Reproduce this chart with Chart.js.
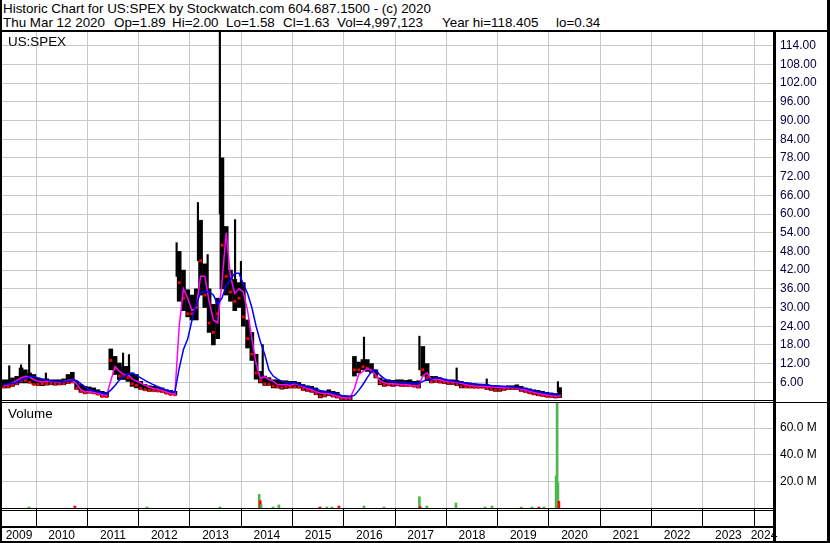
<!DOCTYPE html>
<html>
<head>
<meta charset="utf-8">
<script src="https://cdn.jsdelivr.net/npm/chart.js@4.4.1/dist/chart.umd.min.js"></script>
<style>
  body { margin: 0; background: #fff; }
  #wrap { position: relative; width: 830px; height: 543px; overflow: hidden; background: #fff;
          font-family: "Liberation Sans", Arial, sans-serif; color: #000; }
  .t { position: absolute; font-size: 13.4px; line-height: 15px; white-space: pre; }
  .ln { position: absolute; background: #000; }
  canvas { position: absolute; }
</style>
</head>
<body>
<div id="wrap">
  <canvas id="price" width="828" height="369" style="left:2px;top:32px"></canvas>
  <canvas id="vol" width="828" height="139" style="left:2px;top:403px"></canvas>

  <div class="t" style="left:3px;top:1px">Historic Chart for US:SPEX by Stockwatch.com 604.687.1500 - (c) 2020</div>
  <div class="t" style="left:3px;top:15px">Thu Mar 12 2020</div>
  <div class="t" style="left:114px;top:15px">Op=1.89</div>
  <div class="t" style="left:172px;top:15px">Hi=2.00</div>
  <div class="t" style="left:226px;top:15px">Lo=1.58</div>
  <div class="t" style="left:283px;top:15px">Cl=1.63</div>
  <div class="t" style="left:337px;top:15px">Vol=4,997,123</div>
  <div class="t" style="left:442px;top:15px">Year hi=118.405</div>
  <div class="t" style="left:556px;top:15px">lo=0.34</div>
  <div class="t" style="left:8px;top:34px">US:SPEX</div>
  <div class="t" style="left:8px;top:406px">Volume</div>

  <!-- frame -->
  <div class="ln" style="left:0;top:0;width:2px;height:543px"></div>
  <div class="ln" style="left:827px;top:0;width:3px;height:543px"></div>
  <div class="ln" style="left:0;top:30px;width:830px;height:2px"></div>
  <div class="ln" style="left:0;top:400px;width:775px;height:1px"></div>
  <div class="ln" style="left:0;top:402px;width:830px;height:1px"></div>
  <div class="ln" style="left:0;top:508px;width:775px;height:1px"></div>
  <div class="ln" style="left:0;top:510px;width:775px;height:1px"></div>
  <div class="ln" style="left:0;top:526px;width:775px;height:2px"></div>
  <div class="ln" style="left:0;top:541px;width:830px;height:2px"></div>
  <div class="ln" style="left:773px;top:31px;width:3px;height:512px"></div>
</div>

<script>
// monthly price summary (dense daily bars, one entry per month)
const months = [
  '2009-05','2009-06','2009-07','2009-08','2009-09','2009-10','2009-11','2009-12',
  '2010-01','2010-02','2010-03','2010-04','2010-05','2010-06','2010-07','2010-08','2010-09','2010-10','2010-11','2010-12',
  '2011-01','2011-02','2011-03','2011-04','2011-05','2011-06','2011-07','2011-08','2011-09','2011-10','2011-11','2011-12',
  '2012-01','2012-02','2012-03','2012-04','2012-05','2012-06','2012-07','2012-08','2012-09','2012-10','2012-11','2012-12',
  '2013-01','2013-02','2013-03','2013-04','2013-05','2013-06','2013-07','2013-08','2013-09','2013-10','2013-11','2013-12',
  '2014-01','2014-02','2014-03','2014-04','2014-05','2014-06','2014-07','2014-08','2014-09','2014-10','2014-11','2014-12',
  '2015-01','2015-02','2015-03','2015-04','2015-05','2015-06','2015-07','2015-08','2015-09','2015-10','2015-11','2015-12',
  '2016-01','2016-02','2016-03','2016-04','2016-05','2016-06','2016-07','2016-08','2016-09','2016-10','2016-11','2016-12',
  '2017-01','2017-02','2017-03','2017-04','2017-05','2017-06','2017-07','2017-08','2017-09','2017-10','2017-11','2017-12',
  '2018-01','2018-02','2018-03','2018-04','2018-05','2018-06','2018-07','2018-08','2018-09','2018-10','2018-11','2018-12',
  '2019-01','2019-02','2019-03','2019-04','2019-05','2019-06','2019-07','2019-08','2019-09','2019-10','2019-11','2019-12',
  '2020-01','2020-02','2020-03'
];
const highs = [
  6.8, 6.8, 7.4, 7.9, 10.6, 10.0, 9.0, 8.5,
  7.4, 7.1, 7.1, 6.8, 6.8, 6.8, 7.1, 8.5, 9.2, 6.3, 5.3, 4.7,
  4.5, 4.2, 3.6, 3.1, 2.8, 16.7, 14.3, 12.2, 11.1, 11.1, 9.0, 8.5,
  6.3, 5.3, 4.9, 4.7, 4.5, 4.2, 3.6, 3.4, 3.1, 48, 42, 35.7,
  34, 36, 58, 44, 36, 31, 33, 78, 56, 42, 39, 38,
  38, 26, 22, 15, 9.5, 8.0, 7.5, 6.8, 6.8, 6.5, 6.5, 6.3,
  6.3, 6.0, 5.3, 4.9, 4.7, 4.2, 3.1, 3.1, 3.6, 3.1, 2.8, 1.7,
  1.7, 1.5, 14.3, 12.5, 13.3, 13.3, 12.0, 10.0, 7.4, 6.8, 6.8, 6.6,
  6.8, 6.8, 6.6, 6.8, 6.3, 6.5, 17.5, 12.0, 7.9, 7.9, 7.4, 7.1,
  6.8, 6.8, 6.6, 6.3, 6.0, 5.8, 5.3, 5.3, 5.3, 5.2, 4.9, 4.7,
  4.7, 4.7, 4.9, 4.9, 5.2, 4.7, 4.2, 3.9, 3.6, 3.4, 3.1, 2.8,
  2.6, 2.4, 4.3
];
const lows = [
  4.2, 4.2, 4.7, 5.2, 5.8, 5.8, 5.8, 5.3,
  4.9, 4.9, 5.1, 5.2, 5.1, 5.2, 5.2, 5.6, 5.8, 3.7, 2.8, 2.4,
  2.6, 2.4, 2.0, 1.3, 1.3, 10.0, 8.5, 6.9, 6.9, 6.3, 4.7, 4.2,
  3.7, 3.4, 3.1, 3.1, 3.1, 2.8, 2.4, 2.0, 1.9, 32, 29, 27,
  26, 26, 34, 30, 22, 18, 20, 36, 34, 32, 29, 30,
  24, 17, 13, 7.0, 5.8, 5.0, 5.0, 4.2, 4.2, 3.8, 4.0, 4.2,
  4.2, 4.2, 3.4, 3.1, 2.8, 2.0, 1.0, 1.3, 1.7, 1.3, 1.0, 0.45,
  0.45, 0.4, 8.0, 9.0, 10.0, 9.5, 9.0, 7.4, 5.2, 4.7, 4.9, 4.7,
  4.9, 4.7, 4.7, 4.7, 4.5, 4.2, 8.0, 6.5, 5.8, 6.0, 5.8, 5.6,
  5.3, 5.3, 4.9, 4.2, 4.2, 4.2, 4.2, 4.2, 4.2, 3.7, 3.4, 3.1,
  3.1, 3.4, 3.7, 3.7, 3.7, 3.1, 2.8, 2.4, 2.0, 1.7, 1.5, 1.3,
  1.2, 1.0, 1.1
];
const closes = [
  4.5, 4.6, 5.0, 5.6, 6.5, 6.6, 6.0, 5.3,
  5.3, 5.5, 5.6, 5.6, 5.4, 5.5, 5.6, 6.0, 6.2, 4.0, 3.0, 2.6,
  2.8, 2.6, 2.2, 1.5, 1.4, 13.0, 10.5, 8.0, 8.0, 7.5, 5.5, 5.0,
  4.0, 3.6, 3.4, 3.3, 3.2, 3.0, 2.5, 2.1, 2.0, 38, 33, 28,
  28, 30, 45, 34, 25, 22, 28, 50, 40, 35, 32, 33,
  27, 20, 15, 9.0, 6.5, 5.5, 5.3, 4.8, 4.5, 4.2, 4.5, 4.5,
  4.5, 4.4, 3.7, 3.4, 3.2, 2.4, 1.5, 1.8, 2.2, 1.7, 1.3, 0.8,
  0.7, 0.6, 10.0, 10.0, 11.0, 10.5, 9.5, 7.8, 5.8, 5.2, 5.2, 5.0,
  5.2, 5.0, 5.0, 5.0, 4.8, 4.5, 10.0, 7.5, 6.2, 6.3, 6.1, 6.0,
  5.7, 5.7, 5.3, 4.6, 4.6, 4.5, 4.4, 4.4, 4.4, 4.0, 3.7, 3.5,
  3.5, 3.8, 4.0, 4.0, 4.0, 3.4, 3.0, 2.6, 2.3, 2.0, 1.8, 1.5,
  1.4, 1.3, 1.63
];
// magenta (short) and blue (long) moving averages
const fastAvg = [
  5.0, 5.3, 5.8, 6.6, 7.4, 7.9, 7.6, 6.9,
  6.3, 6.1, 6.4, 6.3, 6.1, 6.1, 6.3, 6.6, 6.9, 5.5, 3.6, 3.0,
  3.0, 2.8, 2.5, 2.0, 1.8, 6.5, 11.1, 9.5, 8.5, 8.5, 7.1, 6.4,
  5.8, 5.0, 4.4, 4.0, 3.8, 3.4, 2.9, 2.4, 2.2, 24, 36, 33,
  29, 30, 40, 40, 32, 26, 25, 38, 54, 40, 34.5, 36,
  35, 29, 20, 12, 7.2, 7.8, 6.9, 6.3, 5.3, 5.2, 5.3, 5.0,
  5.5, 5.2, 4.5, 4.1, 3.6, 3.0, 2.6, 2.4, 2.4, 1.9, 1.5, 1.1,
  1.0, 1.0, 4.0, 8.5, 9.5, 10.3, 10.0, 8.3, 6.5, 5.9, 5.5, 5.5,
  5.4, 5.3, 5.3, 5.0, 4.9, 4.8, 8.0, 9.0, 6.8, 7.0, 6.8, 6.4,
  6.3, 6.1, 6.0, 5.6, 5.3, 5.0, 4.8, 4.7, 4.7, 4.6, 4.5, 4.4,
  4.3, 4.2, 4.3, 4.3, 4.2, 3.8, 3.5, 3.1, 2.8, 2.5, 2.2, 1.9,
  1.7, 1.6, 1.6
];
const slowAvg = [
  5.2, 5.5, 5.6, 6.0, 6.6, 7.2, 7.9, 7.9,
  7.4, 7.0, 6.7, 6.4, 6.3, 6.2, 6.2, 6.3, 6.7, 6.6, 5.5, 4.5,
  3.7, 3.2, 2.9, 2.6, 2.3, 3.5, 5.0, 6.7, 7.9, 8.6, 9.0, 8.2,
  7.4, 6.6, 5.9, 5.2, 4.6, 4.0, 3.5, 3.1, 2.9, 10.5, 16.5, 20,
  26, 31, 34.8, 35.2, 35, 34, 31, 33, 37, 39, 41, 41,
  37.5, 34.5, 30, 24, 19, 15, 10, 8.0, 7.0, 6.3, 6.0, 5.8,
  5.9, 5.4, 4.9, 4.5, 4.1, 3.8, 3.4, 3.1, 2.8, 2.6, 2.3, 1.8,
  1.6, 1.5, 1.8, 3.4, 5.3, 7.5, 9.5, 9.9, 8.3, 7.2, 6.5, 6.2,
  6.1, 6.0, 5.9, 5.8, 5.7, 5.6, 6.3, 6.8, 7.0, 7.5, 7.5, 6.9,
  6.6, 6.4, 6.2, 6.0, 5.8, 5.6, 5.5, 5.4, 5.3, 5.2, 5.0, 4.9,
  4.8, 4.7, 4.6, 4.5, 4.3, 4.2, 4.0, 3.6, 3.2, 3.0, 2.7, 2.5,
  2.3, 2.1, 2.0
];
// single-day wicks that stick out of the monthly band
const spikeDates = ['2009-06-24','2009-09-16','2009-11-13','2010-03-12','2011-09-12','2011-10-24',
  '2012-09-28','2013-02-27','2013-05-07','2013-08-02','2013-08-23','2013-11-18','2013-12-30',
  '2014-06-03','2016-05-24','2017-06-23','2018-03-15','2018-10-15','2020-03-05'];
const spikeLows  = [6.8, 10, 8, 6.5, 10, 10, 40, 45, 36, 60, 50, 38, 36, 8, 12, 10, 6, 5, 3];
const spikeHighs = [11.3, 11.6, 18.1, 9.0, 15.4, 14.9, 50.8, 63.7, 47, 118.4, 67.8, 58.2, 44.8,
  18.1, 20.5, 20.8, 10.6, 7.1, 6.2];

// volume (millions of shares), up = green, down = red
const volDates = ['2009-11-11','2010-10-04','2012-03-01','2013-08-02','2014-05-09','2014-05-16','2014-05-23',
  '2014-08-15','2014-09-26','2015-07-15','2015-09-03','2015-10-08','2015-11-27','2016-05-24','2016-10-14',
  '2017-06-23','2017-06-28','2017-08-15','2018-03-10','2018-10-03','2018-11-22','2019-06-17','2019-09-03',
  '2019-10-22','2019-11-26','2020-02-21','2020-02-28','2020-03-05','2020-03-12'];
const volValues = [0.5, 1.5, 0.4, 0.5, 10.2, 5.5, 2.5, 0.6, 2.3, 0.5, 0.5, 0.5, 1.5, 1.5, 0.5,
  8.5, 1.0, 1.5, 3.8, 0.5, 1.5, 0.5, 0.5, 0.5, 0.5, 24, 78.9, 19, 4.997];
const volUp = [1, 0, 1, 1, 1, 0, 1, 1, 1, 0, 1, 1, 0, 1, 1, 1, 0, 1, 1, 1, 1, 1, 1, 0, 1, 1, 1, 1, 0];

const yearHi = 118.405;
const priceTicks = [6, 12, 18, 24, 30, 36, 42, 48, 54, 60, 66, 72, 78, 84, 90, 96, 102, 108, 114];
const volTicks = [20, 40, 60];
const gridYears = [2010, 2011, 2012, 2013, 2014, 2015, 2016, 2017, 2018, 2019, 2020, 2021, 2022, 2023, 2024];
const yearLabels = ['2009','2010','2011','2012','2013','2014','2015','2016','2017','2018','2019','2020','2021','2022','2023','2024'];

// time axis window (decimal years)
const X_MIN = 2009.337, X_MAX = 2024.389;
const GRID = '#c8c8c8';
const FONT = '"Liberation Sans", Arial, sans-serif';

function monthPos(s) {
  const [y, m] = s.split('-').map(Number);
  return y + (m - 0.5) / 12;
}
function dayPos(s) {
  const d = Date.parse(s + 'T12:00:00Z');
  const y = Number(s.slice(0, 4));
  const a = Date.UTC(y, 0, 1), b = Date.UTC(y + 1, 0, 1);
  return y + (d - a) / (b - a);
}
// keep Chart.js from shrinking the plot for label overhang
function noPad(s) {
  s.paddingTop = 0; s.paddingBottom = 0; s.paddingLeft = 0; s.paddingRight = 0;
}

Chart.defaults.font.family = FONT;
Chart.defaults.animation = false;

const common = {
  responsive: false,
  devicePixelRatio: 1,
  events: [],
  layout: { padding: 0, autoPadding: false },
  plugins: { legend: { display: false }, tooltip: { enabled: false } }
};

function timeAxis(height, grid) {
  return {
    type: 'linear', position: 'bottom', weight: 0, min: X_MIN, max: X_MAX, offset: false,
    afterBuildTicks: s => { s.ticks = gridYears.map(v => ({ value: v })); },
    grid: Object.assign({ color: GRID, lineWidth: 1, offset: false, drawTicks: false }, grid),
    border: { display: false },
    ticks: { display: false },
    afterFit: s => { s.height = height; noPad(s); }
  };
}

new Chart(document.getElementById('price'), {
  type: 'bar',
  data: {
    datasets: [
      { type: 'line', label: 'Long average', order: 0,
        data: months.map((m, i) => ({ x: monthPos(m), y: slowAvg[i] })),
        borderColor: '#0000ff', borderWidth: 1.5, pointRadius: 0, tension: 0 },
      { type: 'line', label: 'Short average', order: 1,
        data: months.map((m, i) => ({ x: monthPos(m), y: fastAvg[i] })),
        borderColor: '#ff00ff', borderWidth: 1.5, pointRadius: 0, tension: 0 },
      { type: 'line', label: 'Close', order: 2, showLine: false,
        data: months.map((m, i) => ({ x: monthPos(m), y: closes[i] })),
        pointStyle: 'rect', pointRadius: 2, pointBackgroundColor: '#ff0000', pointBorderWidth: 0 },
      { type: 'bar', label: 'Range', order: 3, grouped: false,
        data: months.map((m, i) => ({ x: monthPos(m), y: [lows[i], highs[i]] })),
        backgroundColor: '#000', barThickness: 4 },
      { type: 'bar', label: 'Wick', order: 4, grouped: false,
        data: spikeDates.map((d, i) => ({ x: dayPos(d), y: [spikeLows[i], spikeHighs[i]] })),
        backgroundColor: '#000', barThickness: 1.5 }
    ]
  },
  options: Object.assign({}, common, {
    scales: {
      x: timeAxis(0, {}),
      y: {
        type: 'linear', position: 'right', min: 0, max: yearHi,
        afterBuildTicks: s => { s.ticks = priceTicks.map(v => ({ value: v })); },
        grid: { color: GRID, lineWidth: 1, drawTicks: false },
        border: { display: false },
        ticks: { color: '#000040', font: { size: 12 }, padding: 6, callback: v => v.toFixed(2) },
        afterFit: s => { s.width = 56; noPad(s); }
      }
    }
  })
});

new Chart(document.getElementById('vol'), {
  type: 'bar',
  data: {
    datasets: [
      { type: 'bar', label: 'Volume', grouped: false,
        data: volDates.map((d, i) => ({ x: dayPos(d), y: volValues[i] })),
        backgroundColor: volUp.map(u => u ? '#4cb84c' : '#ff0000'),
        barThickness: 2, minBarLength: 1 }
    ]
  },
  options: Object.assign({}, common, {
    scales: {
      x: timeAxis(19, { drawTicks: true, tickLength: 19, tickColor: '#000', tickWidth: 1 }),
      xl: {
        type: 'linear', position: 'bottom', weight: 1, min: X_MIN, max: X_MAX, offset: false,
        afterBuildTicks: s => {
          s.ticks = yearLabels.map(y => {
            const a = Math.max(+y, X_MIN), b = Math.min(+y + 1, X_MAX);
            return { value: (a + b) / 2 };
          });
        },
        grid: { display: false, drawTicks: false },
        border: { display: false },
        ticks: { autoSkip: false, maxRotation: 0, color: '#000', font: { size: 12 }, padding: 1,
                 callback: (v, i) => yearLabels[i] },
        afterFit: s => { s.height = 15; noPad(s); }
      },
      y: {
        type: 'linear', position: 'right', min: 0, max: Math.max(...volValues),
        afterBuildTicks: s => { s.ticks = volTicks.map(v => ({ value: v })); },
        grid: { color: GRID, lineWidth: 1, drawTicks: false },
        border: { display: false },
        ticks: { color: '#000', font: { size: 12 }, padding: 6, callback: v => v.toFixed(1) + ' M' },
        afterFit: s => { s.width = 56; noPad(s); }
      }
    }
  })
});
</script>
</body>
</html>
